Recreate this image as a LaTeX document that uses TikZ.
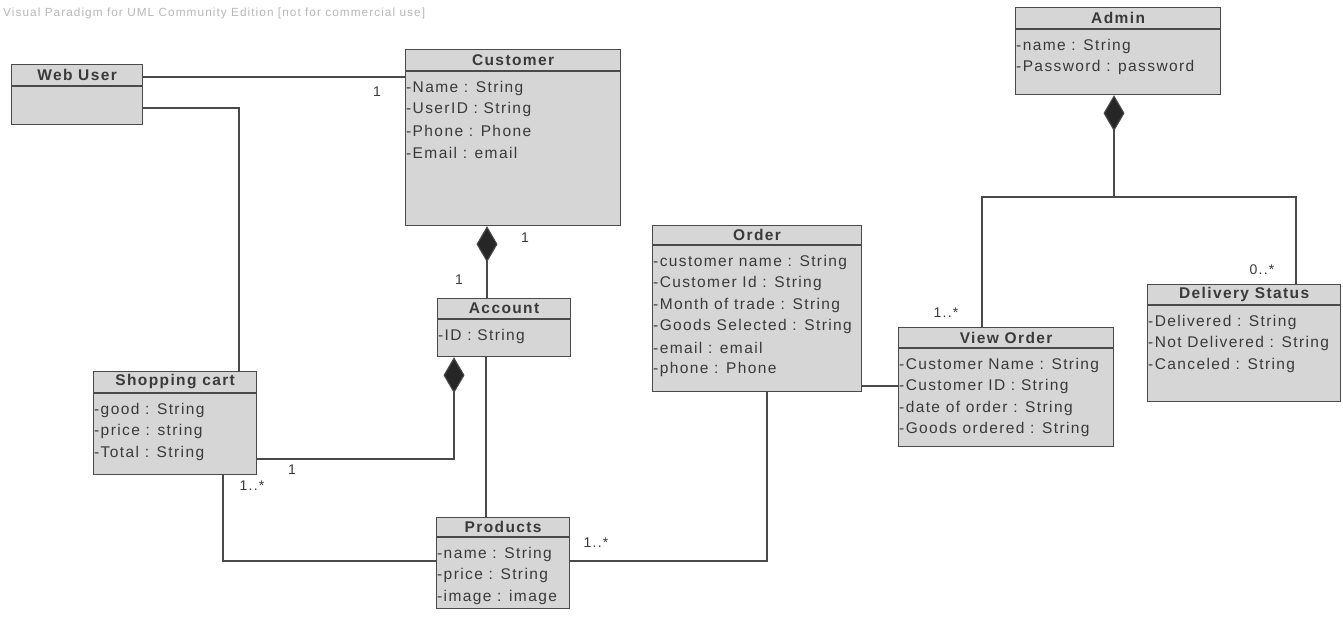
\documentclass[tikz,border=0pt]{standalone}
\usepackage{fontspec}
\setmainfont{Liberation Sans}[LetterSpace=9]
\usetikzlibrary{arrows.meta,calc}
\definecolor{lc}{HTML}{4A4A4A}
\definecolor{boxfill}{HTML}{D6D6D6}
\definecolor{tc}{HTML}{3A3A3A}
\definecolor{wm}{HTML}{B8B8B8}
\tikzset{
  cls/.style={draw=lc, fill=boxfill, line width=1.2pt, inner sep=0pt, anchor=north west},
  ctitle/.style={font=\bfseries\fontsize{15.5}{18}\selectfont, text=tc, inner sep=0pt},
  attr/.style={anchor=west, inner sep=0pt, font=\fontsize{15.5}{18}\selectfont, text=tc},
  mult/.style={inner sep=0pt, font=\fontsize{14}{16}\selectfont, text=tc},
  conn/.style={draw=lc, line width=1.1pt},
  comp/.style={conn, {Diamond[length=36pt,width=21pt,fill=black!85]}-}
}
\newcommand\umlclass[8]{%
  \node[cls, minimum width=#4pt, minimum height=#5pt] (#1) at (#2,#3) {};
  \draw[draw=lc, line width=1.2pt] ([yshift=-#6pt]#1.north west) -- ([yshift=-#6pt]#1.north east);
  \node[ctitle] at ([yshift=-#6pt/2]#1.north) {#7};
  \foreach \t [count=\i] in {#8} {
    \node[attr] at ([xshift=1pt,yshift={-(#6+17+(\i-1)*21.5)*1pt}]#1.north west) {\t};
  }
}
\begin{document}
\begin{tikzpicture}[x=1pt,y=-1pt]
\useasboundingbox[fill=white] (0,0) rectangle (1343,616);
\node[anchor=west, inner sep=0pt, text=wm, font=\fontsize{11.8}{13}\selectfont] (wmark) at (3,13) {Visual Paradigm for UML Community Edition [not for commercial use]};

\umlclass{web}{11}{64}{131}{60}{22}{Web User}{}
\umlclass{cust}{405}{49}{215}{176}{22}{Customer}{-Name : String,-UserID : String,-Phone : Phone,-Email : email}
\umlclass{acct}{437}{298}{133}{58}{21}{Account}{-ID : String}
\umlclass{cart}{93}{371}{163}{103}{22}{Shopping cart}{-good : String,-price : string,-Total : String}
\umlclass{prod}{436}{517}{133}{91}{20}{Products}{-name : String,-price : String,-image : image}
\umlclass{order}{652}{225}{209}{166}{20}{Order}{-customer name : String,-Customer Id : String,-Month of trade : String,-Goods Selected : String,-email : email,-phone : Phone}
\umlclass{view}{898}{327}{215}{119}{21}{View Order}{-Customer Name : String,-Customer ID : String,-date of order : String,-Goods ordered : String}
\umlclass{deliv}{1147}{284}{193}{117}{21}{Delivery Status}{-Delivered : String,-Not Delivered : String,-Canceled : String}
\umlclass{admin}{1015}{7}{205}{87}{22}{Admin}{-name : String,-Password : password}

% Web User -- Customer
\draw[conn] (web.east |- 0,77) -- (cust.west |- 0,77);
\node[mult] (m1) at (377,92) {1};
% Web User -- Shopping cart
\draw[conn] (web.east |- 0,108) -| (cart.north -| 239,0);
% Customer <>-- Account
\draw[comp] (cust.south -| 487,0) -- (acct.north -| 487,0);
\node[mult] (m2) at (525,238) {1};
\node[mult] (m3) at (459,280) {1};
% Account <>-- Shopping cart
\draw[comp] (acct.south -| 454,0) |- (cart.east |- 0,459);
\node[mult] (m4) at (292,470) {1};
\node[mult] (m5) at (252,486) {1..*};
% Account -- Products
\draw[conn] (acct.south -| 486,0) -- (prod.north -| 486,0);
% Shopping cart -- Products
\draw[conn] (cart.south -| 223,0) |- (prod.west |- 0,561);
% Products -- Order
\draw[conn] (prod.east |- 0,561) -| (order.south -| 767,0);
\node[mult] (m6) at (596,543) {1..*};
% Order -- View Order
\draw[conn] (order.east |- 0,386) -- (view.west |- 0,386);
% Admin <>-- View Order / Delivery Status
\coordinate (aj) at (1114,197);
\draw[comp] (admin.south -| 1114,0) -- (aj);
\draw[conn] (aj) -| (view.north -| 982,0);
\draw[conn] (aj) -| (deliv.north -| 1296,0);
\node[mult] (m7) at (946,313) {1..*};
\node[mult] (m8) at (1262,270) {0..*};
\end{tikzpicture}
\end{document}
